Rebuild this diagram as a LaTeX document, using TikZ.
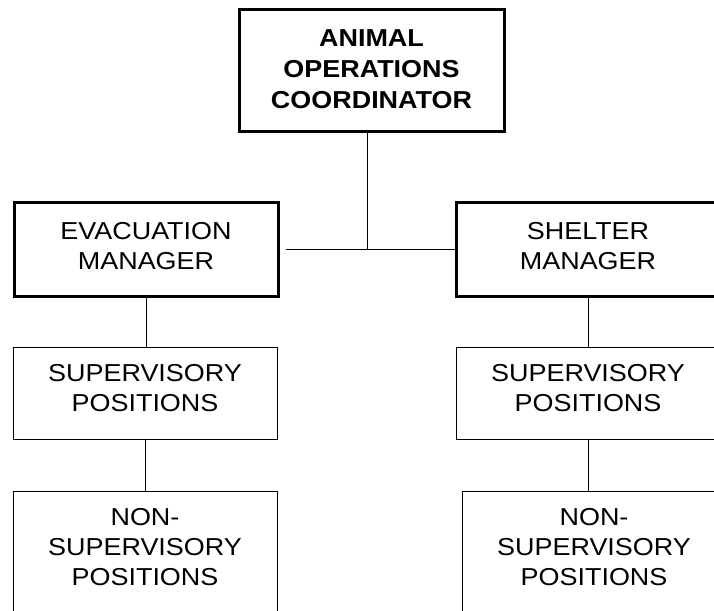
\documentclass[tikz,border=0pt]{standalone}
\usepackage{fontspec}
\setmainfont[FakeStretch=1.1]{Liberation Sans}
\usetikzlibrary{calc}
\tikzset{
headbox/.style={
  draw, rectangle, line width=3pt,
  align=center, inner sep=0pt,
  minimum width=264pt, minimum height=94pt,
  text depth=7pt,
  font=\fontsize{24.5}{30}\selectfont
},
posbox/.style={headbox, line width=1pt, minimum height=92pt, text depth=10pt},
link/.style={line width=1pt},
}

\begin{document}
\begin{tikzpicture}[x=1pt,y=1pt]
            \clip (0,0) rectangle (714,-610);
            \node[headbox, minimum width=265pt, minimum height=121pt, text depth=2pt,
                  font=\bfseries\fontsize{24.5}{31}\selectfont]
                  (coord) at (371.5,-70.5) {ANIMAL\\OPERATIONS\\COORDINATOR};
            \node[headbox] (evac)    at (146,-249) {EVACUATION\\MANAGER};
            \node[headbox] (shelter) at (588,-249) {SHELTER\\MANAGER};

            \node[posbox] (supL) at (145,-393) {SUPERVISORY\\POSITIONS};
            \node[posbox] (supR) at (588,-393) {SUPERVISORY\\POSITIONS};

            \node[posbox, anchor=north, inner ysep=17pt, text depth=30pt,
                  minimum height=0pt] (nonL) at (145,-491) {NON-\\SUPERVISORY\\POSITIONS};
            \node[posbox, anchor=north, inner ysep=17pt, text depth=30pt,
                  minimum height=0pt] (nonR) at (594,-491) {NON-\\SUPERVISORY\\POSITIONS};

            \coordinate (bus) at ($(evac.east)!.5!(shelter.west)$);
            \draw[link] (bus |- coord.south) -- (bus);
            \draw[link] ([xshift=6pt]evac.east) -- (shelter.west);
            \draw[link] (evac.south) -- (evac.south |- supL.north);
            \draw[link] (shelter.south) -- (shelter.south |- supR.north);
            \draw[link] (supL.south) -- (supL.south |- nonL.north);
            \draw[link] (supR.south) -- (supR.south |- nonR.north);
        \end{tikzpicture}
\end{document}
